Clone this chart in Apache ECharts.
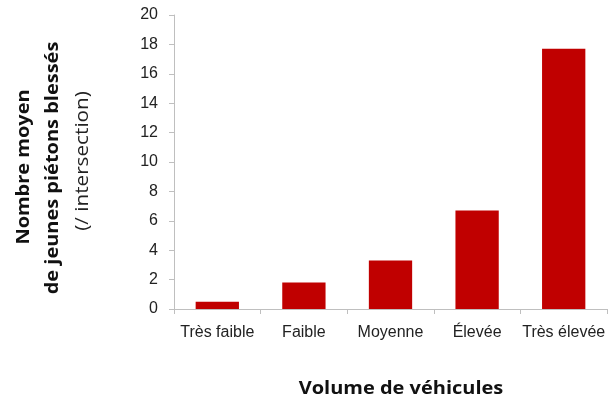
<!DOCTYPE html>
<html><head><meta charset="utf-8">
<script src="https://cdn.jsdelivr.net/npm/echarts@6/dist/echarts.min.js"></script>
<style>html,body{margin:0;padding:0;background:#fff}#c{width:609px;height:403px}</style>
</head><body><div id="c"></div>
<script>
var categories = ["Très faible", "Faible", "Moyenne", "Élevée", "Très élevée"];
var values = [0.5, 1.8, 3.3, 6.7, 17.7];
var yTicks = [0, 2, 4, 6, 8, 10, 12, 14, 16, 18, 20];
var xTitle = "Volume de véhicules";
var yTitleLines = ["Nombre moyen", "de jeunes piétons blessés", "(/ intersection)"];

var chart = echarts.init(document.getElementById('c'));
var axisFont = 'Liberation Sans, Arial, sans-serif';
var titleFont = 'Open Sans, Noto Sans, sans-serif';
chart.setOption({
  animation: false,
  grid: {left: 174, right: 2, top: 15, bottom: 94, containLabel: false},
  xAxis: {
    type: 'category', data: categories,
    axisLine: {lineStyle: {color: '#bfbfbf', width: 1}},
    axisTick: {show: true, alignWithLabel: false, length: 5, lineStyle: {color: '#bfbfbf'}},
    axisLabel: {color: '#222', fontFamily: axisFont, fontSize: 16, margin: 16, interval: 0},
    splitLine: {show: false}
  },
  yAxis: {
    type: 'value', min: yTicks[0], max: yTicks[yTicks.length - 1], interval: 2,
    axisLine: {show: true, lineStyle: {color: '#bfbfbf', width: 1}},
    axisTick: {show: true, length: 5, lineStyle: {color: '#bfbfbf'}},
    axisLabel: {color: '#222', fontFamily: axisFont, fontSize: 16, margin: 16},
    splitLine: {show: false}
  },
  series: [{
    type: 'bar', data: values, barWidth: '50%',
    itemStyle: {color: '#c00000'}
  }],
  graphic: [
    {type: 'text', x: 401, y: 389, scaleX: 1.11, style: {text: xTitle, fill: '#111', font: 'bold 18px ' + titleFont, textAlign: 'center', textVerticalAlign: 'middle'}},
    {type: 'text', x: 24, y: 167, rotation: Math.PI / 2, scaleX: 1.11, style: {text: yTitleLines[0], fill: '#111', font: 'bold 18px ' + titleFont, textAlign: 'center', textVerticalAlign: 'middle'}},
    {type: 'text', x: 53, y: 168, rotation: Math.PI / 2, scaleX: 1.11, style: {text: yTitleLines[1], fill: '#111', font: 'bold 18px ' + titleFont, textAlign: 'center', textVerticalAlign: 'middle'}},
    {type: 'text', x: 83, y: 161, rotation: Math.PI / 2, scaleX: 1.15, style: {text: yTitleLines[2], fill: '#222', font: '18px ' + titleFont, textAlign: 'center', textVerticalAlign: 'middle'}}
  ]
});
</script>
</body></html>
